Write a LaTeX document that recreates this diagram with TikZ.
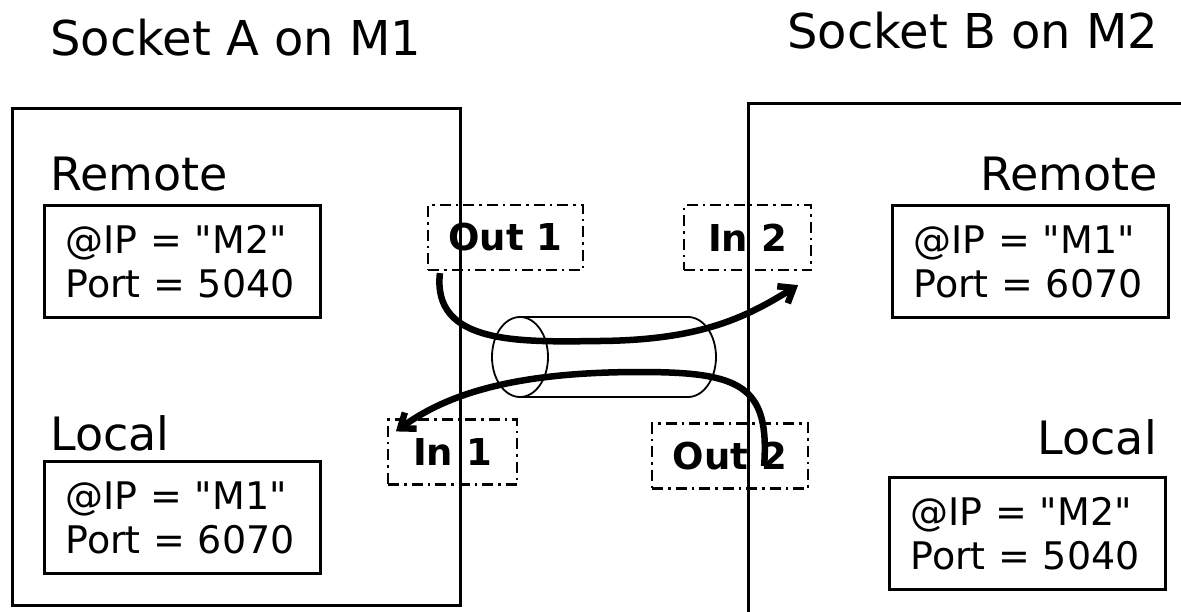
\documentclass[tikz,border=0pt]{standalone}
\usepackage{fontspec}
\setmainfont{DejaVu Sans}[Ligatures=TeXOff]
\usetikzlibrary{arrows.meta}
\begin{document}
\begin{tikzpicture}[x=1pt,y=-1pt,
  title/.style={inner sep=0pt,font=\fontsize{48}{56}\selectfont},
  head/.style={inner sep=0pt,font=\fontsize{46}{52}\selectfont},
  valbox/.style={draw,line width=3pt,anchor=north west,inner xsep=21pt,inner ysep=0pt,
    text width=234pt,align=left,minimum height=112pt,font=\fontsize{38}{44}\selectfont},
  port/.style={draw,line width=2.2pt,dash pattern=on 11pt off 5pt on 2.5pt off 5pt,
    inner sep=0pt,minimum height=65pt,font=\bfseries\fontsize{37}{40}\selectfont},
  flow/.style={line width=6.5pt,-{Straight Barb[length=13pt,width=20pt]}},
  frame/.style={line width=3pt}]
\useasboundingbox (0,0) rectangle (1181,611);
% titles
\node[title,anchor=base west] (ta) at (50,55) {Socket A on M1};
\node[title,anchor=base west] (tb) at (787,48) {Socket B on M2};
% left side
\node[head,anchor=base west] (rA) at (50,190) {Remote};
\node[valbox] (vrA) at (43,204) {@IP = "M2"\\Port = 5040};
\node[head,anchor=base west] (lA) at (50,450) {Local};
\node[valbox] (vlA) at (43,460) {@IP = "M1"\\Port = 6070};
% right side
\node[head,anchor=base east] (rB) at (1158,190) {Remote};
\node[valbox] (vrB) at (891,204) {@IP = "M1"\\Port = 6070};
\node[head,anchor=base east] (lB) at (1157,454) {Local};
\node[valbox] (vlB) at (888,476) {@IP = "M2"\\Port = 5040};
% ports
\node[port,minimum width=155pt] (o1) at (505.5,237.5) {Out 1};
\node[port,minimum width=127pt] (i2) at (747.5,237.5) {In 2};
\node[port,minimum width=129pt] (i1) at (452.5,452) {In 1};
\node[port,minimum width=156pt] (o2) at (730,456) {Out 2};
% machine frames
\draw[frame] (12,108) rectangle (460,605);
\draw[frame] (1190,103) -- (748,103) -- (748,620);
% cylinder
\draw[line width=1.8pt] (520,357) ellipse [x radius=28,y radius=40];
\draw[line width=1.8pt] (520,317) -- (688,317)
  arc[start angle=-90,end angle=90,x radius=28,y radius=40] -- (520,397);
% flows
\draw[flow] ([xshift=13pt,yshift=-2pt]o1.south west) .. controls (432,345) and (520,342) .. (600,341)
  .. controls (700,340) and (745,318) .. ([xshift=-14pt,yshift=-14pt]i2.south east);
\draw[flow] ([xshift=-45pt,yshift=-10pt]o2.east) .. controls (770,385) and (740,372) .. (640,372)
  .. controls (520,372) and (450,392) .. ([xshift=9pt,yshift=-13pt]i1.north west);
\end{tikzpicture}
\end{document}
